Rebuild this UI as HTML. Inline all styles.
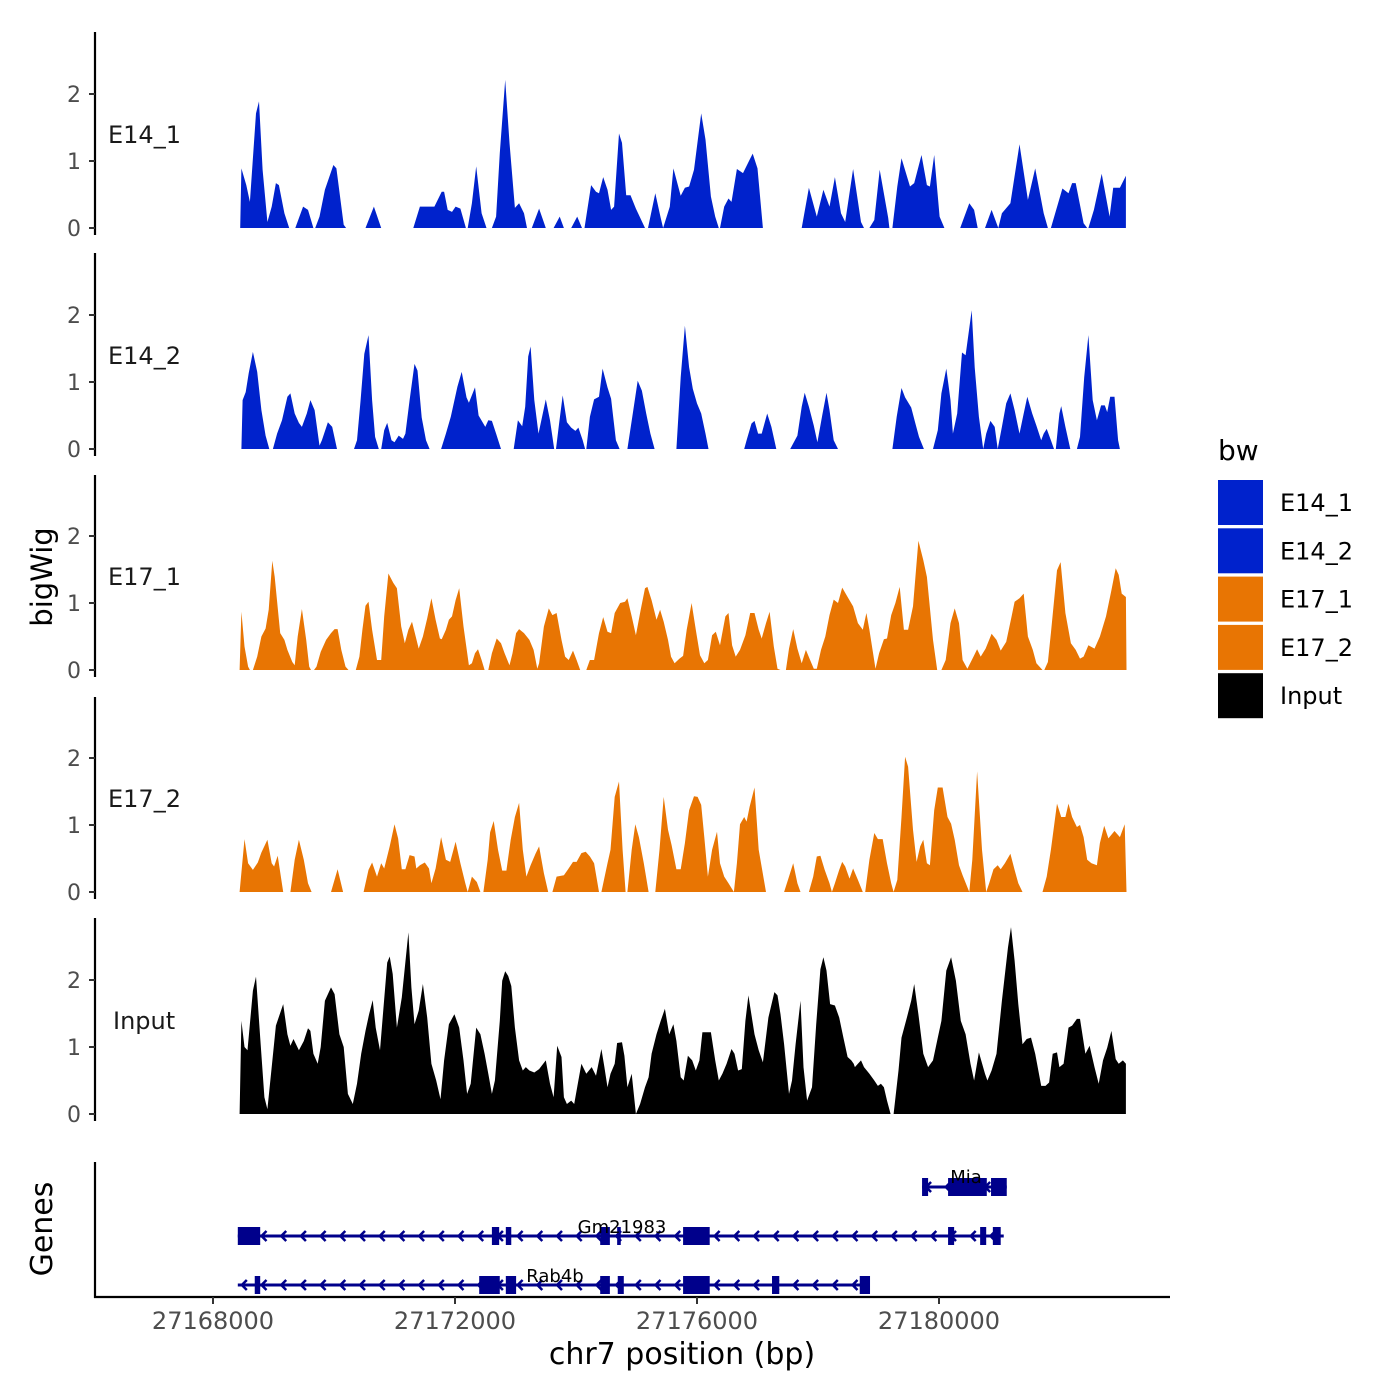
<!DOCTYPE html>
<html><head><meta charset="utf-8"><style>
html,body{margin:0;padding:0;background:#fff;}
svg{display:block;font-family:"DejaVu Sans","Liberation Sans",sans-serif;}
</style></head><body>
<svg id="chart" width="1400" height="1400" viewBox="0 0 1400 1400" xmlns="http://www.w3.org/2000/svg">
<rect width="1400" height="1400" fill="#fff"/>
<g id="tracks"></g>
<g id="genes"></g>
<g id="axes"></g>
<text x="52" y="577" font-size="29" text-anchor="middle" transform="rotate(-90 52 577)">bigWig</text>
<text x="52" y="1229" font-size="30" text-anchor="middle" transform="rotate(-90 52 1229)">Genes</text>
<text x="682" y="1364" font-size="30" text-anchor="middle">chr7 position (bp)</text>
<g id="legend">
<text x="1218" y="460" font-size="28">bw</text>
</g>
</svg>
<script>
const NS="http://www.w3.org/2000/svg";
const START=27168000;
const trackNames=["E14_1","E14_2","E17_1","E17_2","Input"];
const trackColors=["#0022CC","#0022CC","#E87503","#E87503","#000000"];
const xTicks=[27168000,27172000,27176000,27180000];
const yTicks=[0,1,2];
const e14_1_kb=[0.45,0.47,0.55,0.61,0.71,0.76,0.82,0.90,0.97,1.04,1.09,1.18,1.26,1.36,1.49,1.57,1.66,1.69,1.76,1.85,1.99,2.04,2.16,2.20,2.52,2.66,2.78,3.31,3.42,3.66,3.78,3.82,3.88,3.95,4.01,4.09,4.18,4.21,4.28,4.35,4.44,4.52,4.61,4.68,4.74,4.83,4.90,4.99,5.06,5.14,5.19,5.27,5.39,5.50,5.63,5.73,5.80,5.92,6.02,6.10,6.14,6.25,6.33,6.38,6.45,6.52,6.58,6.63,6.71,6.76,6.83,6.90,6.99,7.14,7.19,7.31,7.40,7.44,7.55,7.61,7.73,7.80,7.87,7.95,8.07,8.14,8.23,8.30,8.36,8.38,8.45,8.52,8.57,8.66,8.76,8.87,8.92,9.00,9.09,9.73,9.85,9.98,10.09,10.19,10.28,10.38,10.45,10.58,10.71,10.76,10.85,10.93,11.02,11.16,11.18,11.23,11.31,11.38,11.52,11.59,11.71,11.80,11.85,11.92,12.01,12.09,12.35,12.50,12.58,12.64,12.76,12.87,12.98,13.04,13.18,13.33,13.47,13.59,13.73,13.80,13.85,14.04,14.14,14.20,14.26,14.39,14.45,14.47,14.56,14.69,14.82,14.88,14.99,15.09,15.09];
const e14_1_val=[0,0.89,0.64,0.39,1.71,1.89,0.87,0.09,0.32,0.67,0.64,0.22,0,0,0.32,0.27,0,0,0.17,0.57,0.94,0.89,0.05,0,0,0.32,0,0,0.32,0.32,0.54,0.54,0.27,0.24,0.32,0.29,0,0,0.37,0.92,0.22,0,0,0.17,1.12,2.21,1.27,0.3,0.37,0.22,0,0,0.29,0,0,0.17,0,0,0.17,0,0,0.64,0.54,0.52,0.76,0.57,0.27,0.32,1.41,1.27,0.49,0.49,0.29,0,0,0.52,0.15,0,0.32,0.89,0.48,0.6,0.62,0.87,1.71,1.32,0.47,0.17,0,0,0.32,0.44,0.39,0.88,0.82,1.02,1.11,0.89,0,0,0.6,0.17,0.57,0.32,0.76,0.22,0.09,0.88,0.09,0,0,0.12,0.87,0.15,0,0,0.62,1.04,0.62,0.67,1.09,0.64,0.62,1.09,0.17,0,0,0.37,0.27,0,0,0.27,0,0.22,0.37,1.25,0.42,0.89,0.22,0,0,0.59,0.52,0.67,0.67,0.07,0,0,0.27,0.81,0.17,0.6,0.6,0.78,0];
const e14_2_kb=[0.47,0.49,0.54,0.59,0.66,0.73,0.80,0.87,0.93,0.99,1.06,1.14,1.23,1.28,1.35,1.42,1.47,1.55,1.61,1.68,1.76,1.80,1.90,1.97,2.05,2.33,2.38,2.44,2.50,2.57,2.63,2.68,2.74,2.78,2.83,2.88,2.95,3.00,3.07,3.14,3.18,3.25,3.33,3.38,3.45,3.52,3.58,3.77,3.85,3.93,4.04,4.11,4.19,4.23,4.33,4.39,4.50,4.55,4.61,4.68,4.76,4.97,5.04,5.11,5.16,5.21,5.25,5.31,5.38,5.50,5.57,5.64,5.67,5.72,5.78,5.85,5.92,5.99,6.04,6.11,6.15,6.17,6.23,6.30,6.38,6.44,6.52,6.58,6.66,6.72,6.85,6.93,7.02,7.09,7.16,7.23,7.30,7.66,7.73,7.80,7.87,7.93,8.00,8.07,8.14,8.19,8.78,8.82,8.90,8.95,9.01,9.07,9.16,9.23,9.31,9.54,9.66,9.73,9.78,9.85,9.93,9.99,10.07,10.14,10.19,10.26,10.33,11.23,11.30,11.38,11.44,11.54,11.61,11.67,11.75,11.90,11.98,12.04,12.12,12.19,12.23,12.30,12.38,12.44,12.54,12.59,12.66,12.73,12.78,12.85,12.92,12.97,13.04,13.11,13.18,13.25,13.33,13.40,13.46,13.54,13.61,13.69,13.73,13.78,13.85,13.90,13.93,13.99,14.02,14.09,14.17,14.28,14.33,14.40,14.47,14.54,14.61,14.68,14.74,14.78,14.83,14.90,14.96,14.99];
const e14_2_val=[0,0.73,0.85,1.13,1.45,1.15,0.58,0.2,0,0,0.23,0.43,0.78,0.83,0.53,0.39,0.33,0.53,0.73,0.58,0.05,0.13,0.4,0.33,0,0,0.13,0.73,1.42,1.7,0.73,0.18,0,0,0.28,0.39,0.13,0.1,0.2,0.15,0.23,0.73,1.27,1.17,0.47,0.13,0,0,0.23,0.48,0.93,1.15,0.77,0.69,0.92,0.5,0.33,0.43,0.42,0.23,0,0,0.43,0.34,0.63,1.38,1.53,0.73,0.23,0.74,0.43,0,0,0.38,0.8,0.4,0.32,0.27,0.32,0.13,0,0,0.48,0.74,0.78,1.2,0.92,0.75,0.13,0,0,0.48,1.02,0.87,0.53,0.23,0,0,1.07,1.84,1.22,0.9,0.68,0.53,0.23,0,0,0.13,0.38,0.42,0.23,0.23,0.53,0.33,0,0,0.2,0.63,0.84,0.63,0.35,0.1,0.5,0.84,0.58,0.13,0,0,0.48,0.91,0.77,0.62,0.38,0.18,0,0,0.28,0.83,1.2,0.73,0.23,0.53,1.44,1.4,2.07,1.22,0.48,0,0.23,0.42,0.33,0,0.33,0.68,0.83,0.58,0.23,0.53,0.78,0.53,0.35,0.13,0.23,0.3,0.13,0,0,0.53,0.64,0.33,0,0,0.18,1.07,1.7,0.73,0.43,0.65,0.65,0.55,0.78,0.78,0.13,0];
const e17_1_kb=[0.44,0.47,0.52,0.58,0.61,0.66,0.73,0.80,0.87,0.92,0.98,1.02,1.11,1.18,1.23,1.31,1.35,1.40,1.47,1.54,1.59,1.62,1.67,1.71,1.78,1.87,1.95,2.01,2.06,2.12,2.19,2.24,2.36,2.42,2.47,2.52,2.57,2.63,2.71,2.78,2.83,2.90,2.98,3.04,3.11,3.17,3.23,3.29,3.35,3.40,3.47,3.54,3.61,3.68,3.75,3.78,3.85,3.90,3.95,4.01,4.07,4.14,4.23,4.28,4.33,4.38,4.44,4.49,4.55,4.61,4.69,4.76,4.82,4.90,4.95,5.01,5.06,5.14,5.23,5.30,5.36,5.39,5.47,5.55,5.61,5.68,5.76,5.82,5.88,5.95,6.01,6.07,6.17,6.23,6.30,6.38,6.45,6.52,6.58,6.64,6.73,6.81,6.85,6.92,6.99,7.07,7.14,7.18,7.25,7.33,7.39,7.45,7.52,7.57,7.63,7.71,7.77,7.83,7.91,7.98,8.05,8.12,8.18,8.25,8.31,8.38,8.47,8.52,8.58,8.64,8.71,8.80,8.88,8.95,9.02,9.07,9.14,9.20,9.27,9.33,9.38,9.47,9.52,9.59,9.66,9.73,9.80,9.87,9.93,9.98,10.05,10.12,10.19,10.26,10.33,10.40,10.49,10.58,10.66,10.74,10.80,10.85,10.95,11.01,11.09,11.14,11.21,11.28,11.35,11.42,11.49,11.57,11.66,11.74,11.80,11.90,11.97,12.04,12.11,12.19,12.26,12.33,12.39,12.47,12.57,12.63,12.69,12.77,12.87,12.95,13.02,13.11,13.20,13.25,13.33,13.40,13.47,13.55,13.61,13.71,13.74,13.80,13.85,13.95,14.01,14.09,14.18,14.26,14.33,14.39,14.47,14.57,14.66,14.76,14.85,14.92,14.97,15.02,15.09,15.10];
const e17_1_val=[0,0.87,0.35,0.05,0,0,0.2,0.5,0.62,0.9,1.63,1.39,0.55,0.45,0.3,0.12,0.07,0.5,0.91,0.45,0.05,0,0,0.05,0.27,0.45,0.55,0.61,0.61,0.3,0.05,0,0,0.2,0.6,0.96,1.02,0.6,0.15,0.15,0.8,1.44,1.3,1.22,0.65,0.4,0.6,0.72,0.5,0.32,0.5,0.77,1.07,0.75,0.47,0.46,0.6,0.75,0.8,1.04,1.22,0.65,0.07,0.1,0.25,0.31,0.15,0,0,0.25,0.47,0.4,0.25,0.07,0.25,0.55,0.61,0.55,0.45,0.3,0.02,0.1,0.65,0.92,0.82,0.85,0.45,0.2,0.15,0.29,0.15,0,0,0.15,0.15,0.55,0.79,0.57,0.55,0.85,1.0,1.02,1.07,0.8,0.52,0.9,1.22,1.24,1.04,0.75,0.9,0.72,0.45,0.2,0.1,0.17,0.21,0.6,1.0,0.6,0.22,0.1,0.15,0.52,0.57,0.37,0.8,0.85,0.37,0.2,0.3,0.52,0.85,0.85,0.6,0.47,0.7,0.87,0.35,0.02,0,0,0.32,0.61,0.32,0.1,0.3,0.15,0.02,0.02,0.3,0.5,0.82,1.05,1.0,1.23,1.09,0.95,0.7,0.6,0.85,0.6,0.02,0.25,0.46,0.47,0.82,1.0,1.24,0.6,0.6,0.95,1.93,1.64,1.39,0.45,0,0,0.15,0.7,0.92,0.7,0.15,0.02,0.2,0.31,0.2,0.32,0.54,0.45,0.29,0.42,0.8,1.02,1.07,1.14,0.5,0.3,0.1,0,0,0.12,0.55,1.49,1.61,0.85,0.4,0.3,0.17,0.2,0.37,0.32,0.5,0.8,1.19,1.52,1.42,1.14,1.09,0];
const e17_2_kb=[0.44,0.52,0.58,0.66,0.74,0.80,0.90,0.97,1.01,1.07,1.16,1.28,1.35,1.42,1.50,1.57,1.63,1.95,2.06,2.15,2.49,2.57,2.63,2.71,2.78,2.83,2.92,3.00,3.06,3.12,3.18,3.25,3.33,3.36,3.42,3.50,3.57,3.61,3.68,3.77,3.85,3.92,4.01,4.09,4.17,4.21,4.28,4.36,4.42,4.47,4.54,4.58,4.64,4.71,4.78,4.85,4.92,4.99,5.06,5.12,5.18,5.25,5.33,5.39,5.47,5.54,5.61,5.68,5.80,5.87,5.95,6.01,6.09,6.16,6.23,6.30,6.38,6.42,6.52,6.57,6.64,6.71,6.77,6.82,6.85,6.92,6.98,7.04,7.12,7.20,7.31,7.38,7.45,7.52,7.58,7.66,7.73,7.80,7.87,7.95,8.01,8.07,8.12,8.18,8.25,8.33,8.38,8.45,8.52,8.61,8.66,8.71,8.78,8.82,8.87,8.95,9.02,9.14,9.44,9.52,9.59,9.66,9.71,9.85,9.92,9.98,10.04,10.11,10.19,10.23,10.28,10.35,10.40,10.45,10.52,10.58,10.66,10.74,10.78,10.85,10.93,10.99,11.07,11.14,11.21,11.25,11.31,11.38,11.44,11.49,11.57,11.63,11.69,11.74,11.80,11.85,11.92,11.98,12.06,12.14,12.20,12.26,12.33,12.39,12.50,12.55,12.63,12.71,12.78,12.83,12.90,12.97,13.02,13.09,13.18,13.25,13.31,13.38,13.71,13.78,13.85,13.95,14.02,14.09,14.14,14.20,14.28,14.33,14.39,14.45,14.52,14.61,14.66,14.73,14.80,14.90,14.99,15.07,15.10];
const e17_2_val=[0,0.79,0.43,0.33,0.44,0.59,0.78,0.43,0.38,0.54,0,0,0.48,0.78,0.48,0.13,0,0,0.34,0,0,0.33,0.44,0.23,0.43,0.35,0.68,1.01,0.8,0.34,0.34,0.55,0.53,0.35,0.4,0.44,0.35,0.13,0.35,0.82,0.48,0.45,0.75,0.43,0.13,0,0.23,0.15,0,0,0.48,0.89,1.06,0.63,0.32,0.32,0.78,1.12,1.33,0.63,0.23,0.4,0.57,0.68,0.28,0,0,0.23,0.25,0.34,0.45,0.45,0.58,0.6,0.53,0.43,0,0,0.43,0.63,1.42,1.65,0.63,0,0,0.63,1.01,0.82,0.43,0,0,0.63,1.42,0.93,0.7,0.34,0.34,0.73,1.22,1.43,1.42,1.3,0.82,0.23,0.63,0.9,0.43,0.23,0.13,0,0.43,1.01,1.12,1.05,1.27,1.56,0.63,0,0,0.23,0.43,0.13,0,0,0.23,0.53,0.54,0.33,0.13,0,0.13,0.33,0.45,0.38,0.2,0.35,0.18,0,0,0.48,0.88,0.79,0.79,0.43,0.13,0,0.18,1.12,2.02,1.87,0.93,0.45,0.68,0.78,0.43,0.4,1.22,1.56,1.56,1.12,1.02,0.78,0.4,0.25,0,0.48,1.8,0.63,0,0.13,0.34,0.4,0.34,0.43,0.57,0.33,0.13,0,0,0.23,0.63,1.32,1.12,1.12,1.32,1.12,0.97,1.0,0.82,0.48,0.43,0.4,0.73,0.99,0.8,0.91,0.82,1.01,0];
const input_kb=[0.44,0.47,0.52,0.57,0.66,0.71,0.78,0.85,0.90,0.97,1.04,1.16,1.23,1.28,1.33,1.42,1.50,1.57,1.61,1.66,1.73,1.78,1.85,1.95,2.01,2.09,2.16,2.23,2.31,2.38,2.45,2.52,2.58,2.64,2.69,2.76,2.80,2.88,2.92,2.97,3.04,3.12,3.23,3.28,3.33,3.40,3.47,3.54,3.61,3.69,3.76,3.82,3.90,3.99,4.07,4.14,4.20,4.26,4.35,4.42,4.49,4.55,4.61,4.66,4.74,4.78,4.83,4.88,4.93,4.99,5.06,5.12,5.17,5.23,5.31,5.39,5.50,5.57,5.63,5.69,5.76,5.80,5.85,5.92,5.97,6.03,6.09,6.17,6.26,6.33,6.42,6.47,6.52,6.57,6.64,6.68,6.76,6.80,6.85,6.92,6.99,7.06,7.14,7.20,7.25,7.33,7.40,7.47,7.54,7.61,7.66,7.73,7.78,7.85,7.92,7.98,8.04,8.09,8.23,8.30,8.36,8.42,8.49,8.57,8.62,8.68,8.74,8.80,8.85,8.95,9.02,9.09,9.18,9.28,9.33,9.38,9.44,9.52,9.57,9.63,9.71,9.76,9.82,9.90,9.97,10.04,10.09,10.14,10.20,10.28,10.35,10.42,10.49,10.55,10.59,10.61,10.66,10.71,10.76,10.85,10.93,10.99,11.04,11.09,11.14,11.20,11.25,11.33,11.38,11.47,11.54,11.59,11.66,11.74,11.82,11.90,11.98,12.04,12.12,12.20,12.28,12.36,12.44,12.52,12.58,12.66,12.76,12.80,12.87,12.95,13.04,13.14,13.19,13.25,13.31,13.38,13.45,13.52,13.59,13.69,13.76,13.82,13.88,13.95,13.99,14.06,14.14,14.20,14.28,14.33,14.42,14.49,14.57,14.64,14.71,14.78,14.85,14.92,14.97,15.04,15.09,15.09];
const input_val=[0,1.39,1.0,0.95,1.84,2.05,1.14,0.25,0.07,0.7,1.32,1.64,1.19,1.02,1.12,0.95,1.09,1.28,1.24,0.9,0.75,1.0,1.69,1.89,1.79,1.19,1.0,0.3,0.15,0.45,0.9,1.24,1.49,1.7,1.29,0.95,1.39,2.26,2.35,2.09,1.29,1.74,2.71,1.89,1.34,1.54,1.94,1.44,0.75,0.5,0.22,0.8,1.34,1.49,1.29,0.8,0.3,0.45,1.29,1.19,0.9,0.6,0.3,0.5,1.39,1.99,2.13,2.06,1.91,1.29,0.8,0.65,0.7,0.65,0.62,0.67,0.8,0.45,0.25,1.02,0.85,0.25,0.15,0.2,0.15,0.45,0.75,0.6,0.7,0.57,0.97,0.7,0.4,0.6,0.75,1.06,1.07,0.87,0.4,0.6,0,0.15,0.4,0.55,0.9,1.19,1.39,1.57,1.19,1.34,1.09,0.55,0.5,0.87,0.8,0.65,0.8,1.22,1.22,0.8,0.5,0.6,0.75,0.97,0.9,0.65,0.67,1.39,1.77,1.19,0.95,0.77,1.44,1.82,1.77,1.49,1.04,0.3,0.5,1.04,1.69,0.7,0.2,0.4,1.34,2.16,2.34,2.14,1.64,1.62,1.44,1.14,0.85,0.8,0.75,0.7,0.75,0.8,0.7,0.6,0.5,0.42,0.45,0.4,0.2,0,0,0.65,1.14,1.44,1.69,1.94,1.49,0.9,0.7,0.8,1.14,1.39,2.14,2.34,1.99,1.39,1.19,0.75,0.5,0.92,0.6,0.5,0.65,0.9,1.69,2.49,2.79,2.29,1.64,1.04,1.12,1.14,0.9,0.42,0.42,0.47,0.9,0.92,0.7,0.75,1.29,1.32,1.42,1.42,0.9,1.02,0.7,0.45,0.8,0.99,1.24,0.82,0.75,0.8,0.75,0];
const trackKb=[e14_1_kb,e14_2_kb,e17_1_kb,e17_2_kb,input_kb];
const trackVal=[e14_1_val,e14_2_val,e17_1_val,e17_2_val,input_val];
const geneNames=["Mia","Gm21983","Rab4b"];
const geneStart=[11.72,0.41,0.41];
const geneEnd=[13.12,13.07,10.84];
const geneExonStarts=[[11.72,12.15,12.86],[0.41,4.61,4.84,6.40,6.68,7.77,12.15,12.68,12.89],[0.69,4.40,4.84,6.40,6.69,7.77,9.24,10.69]];
const geneExonEnds=[[11.82,12.79,13.12],[0.78,4.73,4.93,6.56,6.74,8.21,12.25,12.78,13.02],[0.78,4.74,5.01,6.56,6.79,8.21,9.36,10.86]];

const zeroY=[228,449,670,892,1114];
const axisTop=[32,253,475,697,918];
const UNIT=67;
function xScale(bp){return 213+(bp-START)/1000*60.5;}
function yScale(t,v){return zeroY[t]-v*UNIT;}
function mk(tag,attrs,parent){const e=document.createElementNS(NS,tag);for(const k in attrs)e.setAttribute(k,attrs[k]);parent.appendChild(e);return e;}

const tracksG=document.getElementById('tracks');
const axesG=document.getElementById('axes');
for(let t=0;t<5;t++){
  const kb=trackKb[t],val=trackVal[t];
  let d="M"+xScale(START+kb[0]*1000).toFixed(1)+","+zeroY[t];
  for(let i=0;i<kb.length;i++){d+="L"+xScale(START+kb[i]*1000).toFixed(1)+","+yScale(t,val[i]).toFixed(1);}
  d+="L"+xScale(START+kb[kb.length-1]*1000).toFixed(1)+","+zeroY[t]+"Z";
  const p=mk('path',{d:d,fill:trackColors[t],stroke:'none'},tracksG);
  
  
  const ax=mk('line',{x1:95,x2:95,y1:axisTop[t],y2:zeroY[t]+7,stroke:'#000','stroke-width':2.2},axesG);
  
  
  for(const v of yTicks){
    const y=yScale(t,v);
    const tk=mk('line',{x1:89,x2:95,y1:y,y2:y,stroke:'#333','stroke-width':2},axesG);
    
    
    const lb=mk('text',{x:81,y:y+8,'font-size':22,'text-anchor':'end',fill:'#4d4d4d'},axesG);
    lb.textContent=v;
    
    
  }
  const tl=mk('text',{x:t===4?113:108,y:zeroY[t]-85,'font-size':24,fill:'#1a1a1a'},axesG);
  tl.textContent=trackNames[t];
  
  
}
const gax=mk('line',{x1:95,x2:95,y1:1162,y2:1298,stroke:'#000','stroke-width':2.2},axesG);


const xax=mk('line',{x1:94,x2:1170,y1:1297,y2:1297,stroke:'#000','stroke-width':2.2},axesG);


for(const b of xTicks){
  const x=xScale(b);
  const tk=mk('line',{x1:x,x2:x,y1:1297,y2:1304,stroke:'#333','stroke-width':2},axesG);
  
  
  const lb=mk('text',{x:x,y:1329,'font-size':24,'text-anchor':'middle',fill:'#4d4d4d'},axesG);
  lb.textContent=b;
  
  
}
const genesG=document.getElementById('genes');
const geneY=[1187,1236,1285];
const labelPos=[[966,1183],[622,1233],[555,1282]];
const NAVY='#00008B';
for(let g=0;g<geneNames.length;g++){
  const y=geneY[g];
  const x0=xScale(START+geneStart[g]*1000),x1=xScale(START+geneEnd[g]*1000);
  const ln=mk('line',{x1:x0,x2:x1,y1:y,y2:y,stroke:NAVY,'stroke-width':3},genesG);
  
  
  for(let cx=x0+4;cx<x1-2;cx+=19.7){
    const c=mk('polyline',{points:(cx+5)+","+(y-5)+" "+cx+","+y+" "+(cx+5)+","+(y+5),fill:'none',stroke:NAVY,'stroke-width':2.5},genesG);
    
    
  }
  for(let e=0;e<geneExonStarts[g].length;e++){
    const ex0=xScale(START+geneExonStarts[g][e]*1000),ex1=xScale(START+geneExonEnds[g][e]*1000);
    const r=mk('rect',{x:ex0,y:y-9,width:Math.max(3,ex1-ex0),height:18,fill:NAVY},genesG);
    
    
  }
  const lb=mk('text',{x:labelPos[g][0],y:labelPos[g][1],'font-size':18,'text-anchor':'middle',fill:'#000'},genesG);
  lb.textContent=geneNames[g];
  
  
}
const legG=document.getElementById('legend');
const legNames=["E14_1","E14_2","E17_1","E17_2","Input"];
for(let i=0;i<legNames.length;i++){
  const y=480+i*48.3;
  const r=mk('rect',{x:1218,y:y,width:45,height:45,fill:trackColors[i]},legG);
  
  
  const t=mk('text',{x:1280,y:y+31,'font-size':24,fill:'#000'},legG);
  t.textContent=legNames[i];
  
  
}
</script>
</body></html>
